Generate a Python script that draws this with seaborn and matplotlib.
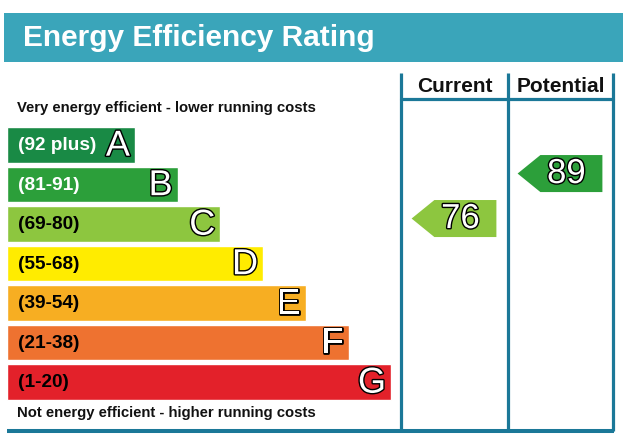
import numpy as np
import pandas as pd
import matplotlib
matplotlib.use("Agg")
import matplotlib.pyplot as plt
import matplotlib.patheffects as pe
from matplotlib.patches import Polygon
import seaborn as sns

# bands of the rating scale
bands = ["A", "B", "C", "D", "E", "F", "G"]
band_ranges = ["(92 plus)", "(81-91)", "(69-80)", "(55-68)", "(39-54)", "(21-38)", "(1-20)"]
band_min = [92, 81, 69, 55, 39, 21, 1]
band_colors = ["#198a45", "#2c9f3a", "#8dc63f", "#ffec00", "#f7ae22", "#ee7230", "#e3212a"]
range_text_colors = ["white", "white", "black", "black", "black", "black", "black"]

# ratings
columns = ["Current", "Potential"]
ratings = [76, 89]

TEAL = "#3aa5ba"
LINE = "#1b7898"
W, H = 623, 437

sns.set_theme(style="white")
plt.rcParams["font.family"] = ["Liberation Sans", "DejaVu Sans"]

fig = plt.figure(figsize=(W / 100, H / 100), dpi=100)

# background axes in pixel units for the frame and titles
ax = fig.add_axes([0, 0, 1, 1])
ax.set_xlim(0, W)
ax.set_ylim(H, 0)
ax.axis("off")

ax.add_patch(plt.Rectangle((4, 13), W - 4, 49, color=TEAL, lw=0))
ax.text(23, 38, "Energy Efficiency Rating", color="white", fontsize=21.5,
        fontweight="bold", va="center", ha="left")

for x in [401, 508, 613]:
    ax.plot([x, x], [73, 431], color=LINE, lw=2.3, solid_capstyle="butt")
ax.plot([401, 613], [99, 99], color=LINE, lw=2.3)
ax.plot([7, 614], [431, 431], color=LINE, lw=2.9, solid_capstyle="butt")

for i, name in enumerate(columns):
    ax.text(454.5 + i * 106, 86, name, fontsize=15, fontweight="bold",
            ha="center", va="center", color="#111111")

ax.text(17, 108, "Very energy efficient - lower running costs", fontsize=10.7,
        fontweight="bold", ha="left", va="center", color="#111111")
ax.text(17, 413, "Not energy efficient - higher running costs", fontsize=10.7,
        fontweight="bold", ha="left", va="center", color="#111111")

# band bars
bx0, bx1, by0, by1 = 7, 400, 125.25, 401.75
bax = fig.add_axes([bx0 / W, 1 - by1 / H, (bx1 - bx0) / W, (by1 - by0) / H])
bar_len = 128 + 42.7 * np.arange(len(bands))
df = pd.DataFrame({"band": bands, "length": bar_len})
sns.barplot(data=df, x="length", y="band", hue="band", palette=band_colors,
            saturation=1, width=0.91, legend=False, orient="h", ax=bax)
bax.set_xlim(0, bx1 - bx0)
bax.set_ylim(len(bands) - 0.5, -0.5)
bax.axis("off")

outline = [pe.withStroke(linewidth=2.0, foreground="black")]
for i, (b, r) in enumerate(zip(bands, band_ranges)):
    bax.text(11, i + 0.02, r, fontsize=13.7, fontweight="bold", ha="left",
             va="center", color=range_text_colors[i])
    bax.text(bar_len[i] - 5, i + 0.03, b, fontsize=26, ha="right", va="center",
             color="white", path_effects=outline)

# rating arrows, vertical position follows the rating value
cax = fig.add_axes([401 / W, 1 - 430 / H, 212 / W, 330 / H])
cax.set_xlim(0, 2)
cax.set_ylim(14.88, 110.26)
cax.axis("off")
half = 5.35
for j, v in enumerate(ratings):
    k = next(i for i, m in enumerate(band_min) if v >= m)
    pts = [(j + 0.1, v), (j + 0.315, v + half), (j + 0.9, v + half),
           (j + 0.9, v - half), (j + 0.315, v - half)]
    cax.add_patch(Polygon(pts, closed=True, color=band_colors[k], lw=0))
    cax.text(j + 0.56, v, str(v), fontsize=25, ha="center", va="center",
             color="white", path_effects=outline)

fig.savefig("out.png", dpi=100)
